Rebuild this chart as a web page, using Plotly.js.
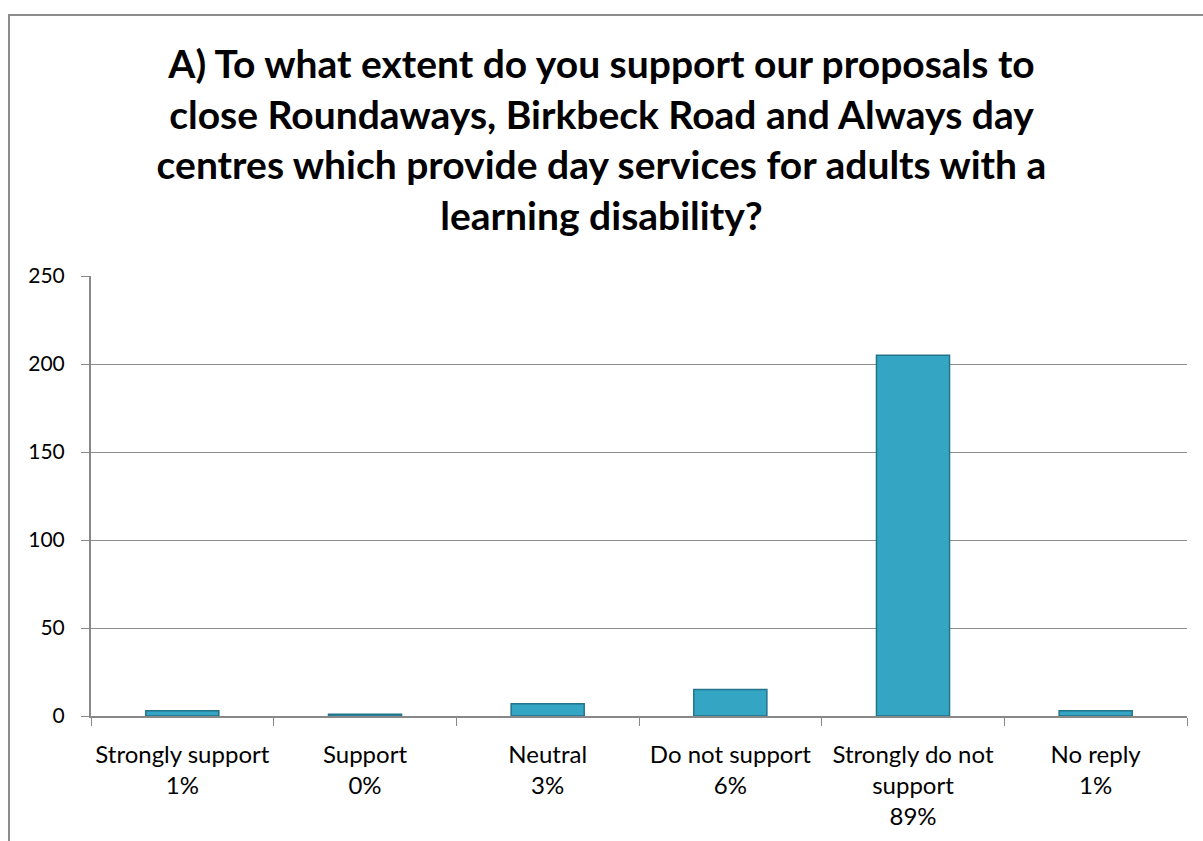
<!DOCTYPE html>
<html>
<head>
<meta charset="utf-8">
<script src="https://cdn.plot.ly/plotly-3.0.1.min.js"></script>
<style>
  html, body { margin: 0; padding: 0; background: #fff; }
  #wrap { position: relative; width: 1203px; height: 841px; }
  #chart { position: absolute; left: 0; top: 0; width: 1203px; height: 841px; }
  #frame { position: absolute; left: 8px; top: 14px; width: 1200px; height: 840px;
           border-left: 2px solid #8c8c8c; border-top: 2px solid #8c8c8c; pointer-events: none; }
</style>
</head>
<body>
<div id="wrap">
  <div id="chart"></div>
  <div id="frame"></div>
</div>
<script>
const categories = ["Strongly support", "Support", "Neutral", "Do not support", "Strongly do not support", "No reply"];
const tickLabels = ["Strongly support<br>1%", "Support<br>0%", "Neutral<br>3%", "Do not support<br>6%", "Strongly do not<br>support<br>89%", "No reply<br>1%"];
const responses = [3, 1, 7, 15, 205, 3];
const yTicks = [0, 50, 100, 150, 200, 250];

const trace = {
  type: "bar",
  x: categories,
  y: responses,
  marker: { color: "#35a5c4", line: { color: "#23738a", width: 1.5 } },
  hoverinfo: "x+y"
};

const layout = {
  width: 1203,
  height: 841,
  paper_bgcolor: "#ffffff",
  plot_bgcolor: "#ffffff",
  margin: { l: 91, r: 16, t: 276, b: 125 },
  font: { family: "Lato, 'Open Sans', sans-serif", color: "#000" },
  title: {
    text: "<b>A) To what extent do you support our proposals to<br>close Roundaways, Birkbeck Road and Always day<br>centres which provide day services for adults with a<br>learning disability?</b>",
    font: { family: "Lato, 'Open Sans', sans-serif", size: 39, color: "#000" },
    x: 0.5, xanchor: "center",
    yref: "container", y: 1 - 78 / 841, yanchor: "top"
  },
  bargap: 0.6,
  showlegend: false,
  xaxis: {
    type: "category",
    tickmode: "array",
    tickvals: categories,
    ticktext: tickLabels,
    tickson: "boundaries",
    tickangle: 0,
    ticks: "outside",
    ticklen: 8,
    tickcolor: "#888",
    ticklabelstandoff: 16,
    showline: true,
    linecolor: "#888",
    linewidth: 2,
    showgrid: false,
    tickfont: { size: 24, color: "#000" },
    fixedrange: true
  },
  yaxis: {
    range: [0, 250],
    tickmode: "array",
    tickvals: yTicks,
    ticks: "outside",
    ticklen: 8,
    tickcolor: "#888",
    ticklabelstandoff: 12,
    showline: true,
    linecolor: "#888",
    linewidth: 2,
    showgrid: true,
    gridcolor: "#8c8c8c",
    gridwidth: 1,
    zeroline: false,
    tickfont: { size: 21, color: "#000" },
    fixedrange: true
  }
};

Plotly.newPlot("chart", [trace], layout, { displayModeBar: false, staticPlot: true });
</script>
</body>
</html>
